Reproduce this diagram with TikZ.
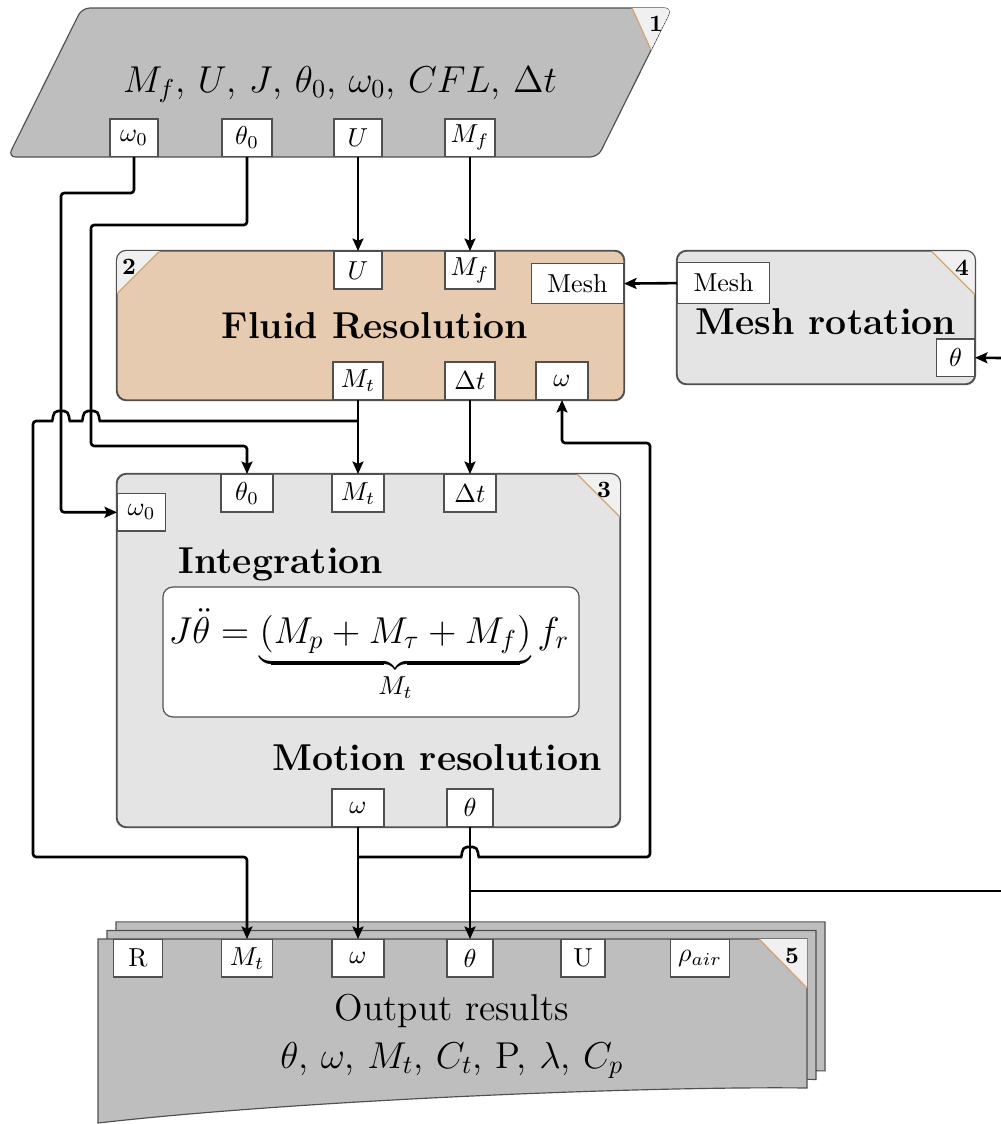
\documentclass[tikz,border=0pt]{standalone}
\usetikzlibrary{arrows.meta}
\definecolor{gA}{HTML}{BEBEBE}
\definecolor{gB}{HTML}{E4E4E4}
\definecolor{tanF}{HTML}{E6CBB0}
\definecolor{triF}{HTML}{F0F0F0}
\definecolor{triL}{HTML}{D4A574}
\definecolor{bord}{HTML}{505050}
\begin{document}
\begin{tikzpicture}[x=0.385pt,y=-0.385pt,
  port/.style={draw=bord, fill=white, line width=0.45pt, inner sep=0pt, minimum height=14.4pt, font=\normalsize},
  wire/.style={line width=1pt, rounded corners=1.2pt},
  arr/.style={-{Stealth[length=4.8pt,width=4.2pt,inset=0.9pt]}},
  boxshape/.style={draw=bord, line width=0.45pt, rounded corners=3.8pt, inner sep=0pt},
  title/.style={font=\Large\bfseries, inner sep=0pt},
  bigtext/.style={font=\Large, inner sep=0pt},
  numlbl/.style={font=\small\bfseries, inner sep=0pt},
  hyp/.style={draw=triL, line width=0.5pt},
  border/.style={draw=bord, line width=0.45pt}]
\useasboundingbox (0,0) rectangle (1001,1124);

% ---------- Box 1 : inputs ----------
\filldraw[fill=gA, border, rounded corners=3pt] (82,8) -- (672,8) -- (598,157) -- (8,157) -- cycle;
\begin{scope}
  \clip[rounded corners=3pt] (82,8) -- (672,8) -- (598,157) -- (8,157) -- cycle;
  \fill[triF] (632,8) -- (672,8) -- (651,50) -- cycle;
\end{scope}
\draw[hyp] (632,8) -- (651,50);
\node[numlbl] (n1) at (656,24) {1};
\node[bigtext, anchor=base] (in1) at (340,92) {$M_f$, $U$, $J$, $\theta_0$, $\omega_0$, $CFL$, $\Delta t$};
\node[port, minimum width=18.5pt, anchor=south] (p1w) at (134,157) {$\omega_0$};
\node[port, minimum width=19.3pt, anchor=south] (p1t) at (247,157) {$\theta_0$};
\node[port, minimum width=18.5pt, anchor=south] (p1U) at (358,157) {$U$};
\node[port, minimum width=19.3pt, anchor=south] (p1M) at (470,157) {$M_f$};

% ---------- Box 2 : fluid resolution ----------
\node[boxshape, fill=tanF, minimum width=195.2pt, minimum height=57.4pt] (b2) at (370.5,325.5) {};
\begin{scope}
  \clip[rounded corners=3.8pt] (b2.south west) rectangle (b2.north east);
  \fill[triF] (b2.north west) -- ([xshift=16.9pt]b2.north west) -- ([yshift=-16.9pt]b2.north west) -- cycle;
\end{scope}
\draw[hyp] ([xshift=16.9pt]b2.north west) -- ([yshift=-16.9pt]b2.north west);
\draw[border, rounded corners=3.8pt] (b2.south west) rectangle (b2.north east);
\node[numlbl] (n2) at (129,267) {2};
\node[title, anchor=base] (t2) at (375,338) {Fluid Resolution};
\node[port, minimum width=18.5pt, anchor=north] (p2U) at (358,251) {$U$};
\node[port, minimum width=19.3pt, anchor=north] (p2M) at (470,251) {$M_f$};
\node[port, minimum width=35.4pt, minimum height=15.4pt, anchor=north east] (p2m) at (624,263) {Mesh};
\node[port, minimum width=19.3pt, anchor=south] (p2Mt) at (358,400) {$M_t$};
\node[port, minimum width=19.3pt, anchor=south] (p2dt) at (470,400) {$\Delta t$};
\node[port, minimum width=20pt, anchor=south] (p2w) at (562,400) {$\omega$};

% ---------- Box 4 : mesh rotation ----------
\node[boxshape, fill=gB, minimum width=114.7pt, minimum height=51.2pt] (b4) at (826,317.5) {};
\begin{scope}
  \clip[rounded corners=3.8pt] (b4.south west) rectangle (b4.north east);
  \fill[triF] (b4.north east) -- ([xshift=-17.3pt]b4.north east) -- ([yshift=-17.3pt]b4.north east) -- cycle;
\end{scope}
\draw[hyp] ([xshift=-17.3pt]b4.north east) -- ([yshift=-17.3pt]b4.north east);
\draw[border, rounded corners=3.8pt] (b4.south west) rectangle (b4.north east);
\node[numlbl] (n4) at (962,268) {4};
\node[title, anchor=base] (t4) at (826,334) {Mesh rotation};
\node[port, minimum width=35.4pt, minimum height=15.8pt, anchor=north west] (p4m) at (677,262) {Mesh};
\node[port, minimum width=14.6pt, anchor=south east] (p4t) at (975,377) {$\theta$};

% ---------- Box 3 : motion resolution ----------
\node[boxshape, fill=gB, minimum width=193.7pt, minimum height=135.9pt] (b3) at (368.5,650.5) {};
\begin{scope}
  \clip[rounded corners=3.8pt] (b3.south west) rectangle (b3.north east);
  \fill[triF] (b3.north east) -- ([xshift=-17pt]b3.north east) -- ([yshift=-17pt]b3.north east) -- cycle;
\end{scope}
\draw[hyp] ([xshift=-17pt]b3.north east) -- ([yshift=-17pt]b3.north east);
\draw[border, rounded corners=3.8pt] (b3.south west) rectangle (b3.north east);
\node[numlbl] (n3) at (604,490) {3};
\node[port, minimum width=20pt, anchor=north] (p3t0) at (247,474) {$\theta_0$};
\node[port, minimum width=20pt, anchor=north] (p3Mt) at (358,474) {$M_t$};
\node[port, minimum width=20pt, anchor=north] (p3dt) at (470,474) {$\Delta t$};
\node[port, minimum width=18.5pt, anchor=north west] (p3w0) at (117,493) {$\omega_0$};
\node[title, anchor=base west] (t3a) at (178,573) {Integration};
\node[boxshape, fill=white, minimum width=160.2pt, minimum height=50pt] (eqb) at (371,652) {};
\node[bigtext, anchor=base] (eq) at (369,643) {$J\ddot{\theta} = \underbrace{(M_p + M_\tau + M_f)}_{M_t} f_r$};
\node[title, anchor=base east] (t3b) at (602,770) {Motion resolution};
\node[port, minimum width=20pt, anchor=south] (p3w) at (358,827) {$\omega$};
\node[port, minimum width=17.7pt, anchor=south] (p3th) at (470,827) {$\theta$};

% ---------- Box 5 : outputs ----------
\foreach \s in {18,9,0} {
  \filldraw[fill=gA, border, shift={(\s,-0.95*\s)}] (98,939) -- (807,939) -- (807,1088) .. controls (650,1086) and (300,1100) .. (98,1123) -- cycle;
}
\fill[triF] (759,939) -- (807,939) -- (807,988) -- cycle;
\draw[hyp] (759,939) -- (807,988);
\node[numlbl] (n5) at (792,956) {5};
\node[port, minimum width=18.9pt, anchor=north] (p5R) at (138,939) {R};
\node[port, minimum width=19.6pt, anchor=north] (p5Mt) at (247,939) {$M_t$};
\node[port, minimum width=20pt, anchor=north] (p5w) at (358,939) {$\omega$};
\node[port, minimum width=17.7pt, anchor=north] (p5th) at (470,939) {$\theta$};
\node[port, minimum width=17pt, anchor=north] (p5U) at (583,939) {U};
\node[port, minimum width=22.7pt, anchor=north] (p5r) at (700,939) {$\rho_{air}$};
\node[bigtext, anchor=base] (o1) at (452,1020) {Output results};
\node[bigtext, anchor=base] (o2) at (452,1068) {$\theta$, $\omega$, $M_t$, $C_t$, P, $\lambda$, $C_p$};

% ---------- connectors ----------
\coordinate (k1) at (61,193);
\coordinate (k2) at (91,225);
\coordinate (k3) at (247,446);
\coordinate (j1) at (358,421);
\coordinate (k4) at (33,421);
\coordinate (k5) at (33,857);
\coordinate (j2) at (358,857);
\coordinate (k6) at (650,857);
\coordinate (k7) at (650,443);
\coordinate (j3) at (470,891);
\coordinate (rA) at (1001,891);
\coordinate (rB) at (1001,358);

\draw[wire,arr] (p1w.south) |- (k1) |- (p3w0.west);
\draw[wire,arr] (p1t.south) |- (k2) |- (k3) -- (p3t0.north);
\draw[wire,arr] (p1U.south) -- (p2U.north);
\draw[wire,arr] (p1M.south) -- (p2M.north);
\draw[wire,arr] (p4m.west) -- (p2m.east);
\draw[wire,arr] (rB) -- (p4t.east);
\draw[wire,arr] (p2Mt.south) -- (p3Mt.north);
\draw[wire,arr] (p2dt.south) -- (p3dt.north);
\draw[wire,arr] (j1) -- (103,421) .. controls (99,421) and (100,411) .. (91,411) .. controls (82,411) and (83,421) .. (79,421)
  -- (73,421) .. controls (69,421) and (70,411) .. (61,411) .. controls (52,411) and (53,421) .. (49,421)
  -- (k4) -- (k5) -| (p5Mt.north);
\draw[wire,arr] (j2) -- (458,857) .. controls (462,857) and (461,847) .. (470,847) .. controls (479,847) and (478,857) .. (482,857)
  -- (k6) -- (k7) -| (p2w.south);
\draw[wire,arr] (p3w.south) -- (p5w.north);
\draw[wire,arr] (p3th.south) -- (p5th.north);
\draw[wire] (j3) -- (rA);
\end{tikzpicture}
\end{document}
